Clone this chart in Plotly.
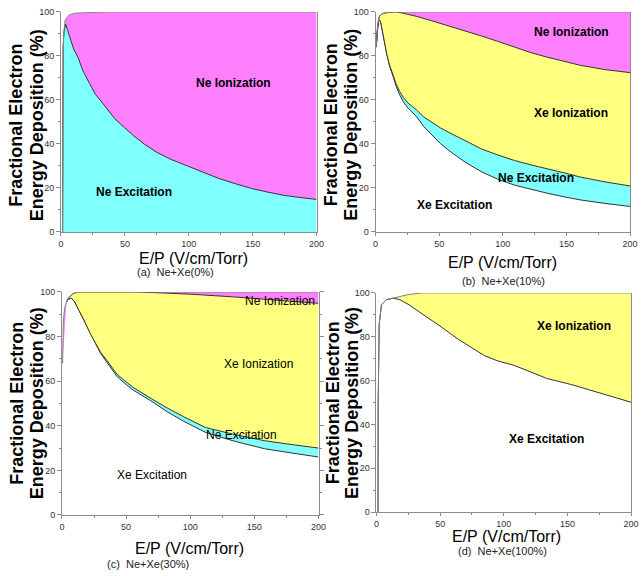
import plotly.graph_objects as go

W, H = 643, 576

# ---------- data: cumulative energy-deposition curves (%) vs E/P (V/cm/Torr) ----------
# (a) Ne + Xe(0%)
a_total_x = [1.2, 1.4, 2.0, 3.3, 6.7, 11, 20, 30, 36, 200]
a_total_y = [0, 70, 90, 96.4, 98.7, 99.4, 99.5, 99.6, 100, 100]
a_neexc_x = [1.3, 1.6, 2.4, 3.7, 5, 8, 10, 13.3, 17, 22.3, 27, 31.3, 36.4, 42, 49.7, 56.9, 65,
             74.9, 86, 97.9, 110, 123.6, 136, 149, 162, 175, 188, 200]
a_neexc_y = [0, 84, 91, 94.3, 92, 86, 83, 79.4, 73.5, 67.5, 62.5, 59.5, 55.6, 51.5, 47.4, 43.7, 40,
             36.2, 33, 30.3, 27.5, 24.3, 22, 19.8, 18.1, 16.6, 15.6, 14.8]

# (b) Ne + Xe(10%)
b_total_x = [0.5, 1, 1.6, 2.4, 3, 4, 5.5, 8, 12, 16, 200]
b_total_y = [84, 89.5, 93.5, 96.5, 97.8, 98.6, 99.2, 99.6, 99.9, 100, 100]
b_xeexc_x = [0.6, 1, 1.6, 2.4, 3, 4, 5.5, 7, 8.75, 11, 13.9, 16, 19, 22, 25.5, 31.9, 38, 44.8, 51,
             57.7, 70.5, 83.4, 96, 109.1, 122, 134.9, 148, 160.6, 180, 200]
b_xeexc_y = [84, 88, 92, 95.5, 96.4, 95.5, 91.5, 86.5, 81, 75.5, 70.5, 66.5, 62.3, 59, 56.3, 52.6, 47.8,
             43.7, 40.2, 37, 31.7, 27.3, 24, 21.3, 19.3, 17.6, 16, 14.6, 13, 11.6]
b_neexc_y = [84, 88, 92, 95.5, 96.4, 95.5, 91.5, 86.5, 81, 75.8, 71.2, 67.5, 63.8, 61, 58.6, 55.6, 52.2,
             49.5, 47.3, 45.2, 41.3, 37.7, 35, 32.5, 30.5, 28.8, 26.9, 25, 22.8, 20.9]
b_xeion_x = [0.5, 1, 1.6, 2.4, 3, 4, 5.5, 8, 12, 16, 20, 32, 45, 58, 70, 83, 96, 109, 122, 135, 148,
             161, 180, 200]
b_xeion_y = [84, 89.5, 93.5, 96.5, 97.8, 98.6, 99.2, 99.6, 99.9, 100, 99.6, 98, 95.8, 93.6, 91.3, 89.1,
             86.6, 83.9, 81.5, 79.4, 77.5, 75.7, 73.8, 72.4]

# (c) Ne + Xe(30%)
c_total_x = [0.5, 0.6, 1, 2, 3.5, 5, 8, 12, 200]
c_total_y = [68, 76, 86, 92.5, 95.5, 97.2, 99, 100, 100]
c_xeexc_x = [3.5, 5, 7.5, 10, 13, 16.5, 22, 26, 30, 35, 43, 50, 56, 69, 82, 95, 112, 135, 158, 180, 200]
c_xeexc_y = [95.5, 96.8, 97.2, 95.5, 92, 88, 81, 76.5, 72.5, 68.5, 62, 58.5, 55.8, 51.3, 46.3, 42,
             37, 33, 29.7, 27.7, 26]
c_neexc_y = [95.5, 96.8, 97.2, 95.5, 92, 88.2, 81.4, 77, 73, 69.3, 63, 59.7, 57, 52.4, 48, 44,
             39.2, 36, 33.3, 31.5, 30]
c_xeion_x = [3.5, 5, 8, 12, 60, 80, 100, 133, 165, 200]
c_xeion_y = [95.5, 97.2, 99, 100, 100, 99.5, 99, 97.8, 96.5, 94.9]

# (d) Ne + Xe(100%)
d_total_x = [1.2, 1.3, 2.1, 3.9, 7.7, 15.4, 25.5, 36, 200]
d_total_y = [0, 48, 85.6, 94.6, 96.9, 97.9, 99.3, 100, 100]
d_xeexc_x = [1.2, 1.3, 2.1, 3.9, 7.7, 13, 18, 25.5, 38.4, 49.9, 64.1, 75, 84.7, 95, 107.8, 120,
             133.6, 154.2, 174.8, 200]
d_xeexc_y = [0, 48, 85.6, 94.6, 96.9, 97.6, 97, 94.6, 89.4, 84.9, 78.9, 75, 71.4, 69, 67, 64.2,
             61, 58, 54.3, 50.1]

x_ticks = [0, 50, 100, 150, 200]
y_ticks = [0, 20, 40, 60, 80, 100]

CYAN, YELLOW, MAGENTA = "#80ffff", "#ffff80", "#ff80ff"
CURVE, TOTAL, AXIS = "#333333", "#808080", "#8c8c8c"

fig = go.Figure()


def layer(x, y, ax, fill, color, line=CURVE):
    fig.add_trace(go.Scatter(
        x=x, y=y, mode="lines", xaxis="x" + ax, yaxis="y" + ax,
        line=dict(color=line, width=1), fill=fill,
        fillcolor=color if color else "rgba(0,0,0,0)",
        hoverinfo="skip", showlegend=False))


# (a)
layer(a_neexc_x, a_neexc_y, "", "tozeroy", CYAN)
layer(a_total_x, a_total_y, "", "tonexty", MAGENTA, TOTAL)
# (b)
layer(b_xeexc_x, b_xeexc_y, "2", "none", None)
layer(b_xeexc_x, b_neexc_y, "2", "tonexty", CYAN)
layer(b_xeion_x, b_xeion_y, "2", "tonexty", YELLOW)
layer(b_total_x, b_total_y, "2", "tonexty", MAGENTA, TOTAL)
# (c)
layer(c_xeexc_x, c_xeexc_y, "3", "none", None)
layer(c_xeexc_x, c_neexc_y, "3", "tonexty", CYAN)
layer(c_xeion_x, c_xeion_y, "3", "tonexty", YELLOW)
layer(c_total_x, c_total_y, "3", "tonexty", MAGENTA, TOTAL)
# (d)
layer(d_xeexc_x, d_xeexc_y, "4", "none", None)
layer(d_total_x, d_total_y, "4", "tonexty", YELLOW, TOTAL)

# plot areas in pixels: (left, right, top, bottom)
boxes = {"": (59, 319, 7, 231), "2": (379, 638, 7, 231),
         "3": (60, 321, 292, 519), "4": (380, 639, 293, 516)}

tick_font = dict(family="Liberation Sans, Arial", size=9, color="#333333")
layout = dict(width=W, height=H, margin=dict(l=0, r=0, t=0, b=0),
              paper_bgcolor="white", plot_bgcolor="white")

for ax, (l, r, t, b) in boxes.items():
    xa = dict(domain=[l / W, r / W], range=[0, 200], anchor="y" + ax,
              showline=True, linecolor=AXIS, linewidth=1, mirror=False,
              ticks="outside", ticklen=3, tickcolor=AXIS, tickvals=x_ticks,
              minor=dict(dtick=25, ticks="outside", ticklen=2, tickcolor=AXIS),
              showgrid=False, zeroline=False, tickfont=tick_font, fixedrange=True)
    ya = dict(domain=[1 - b / H, 1 - t / H], range=[0, 100], anchor="x" + ax,
              showline=True, linecolor=AXIS, linewidth=1,
              mirror="ticks" if ax == "3" else True,
              ticks="outside", ticklen=4, tickcolor=AXIS, tickvals=y_ticks,
              minor=dict(dtick=10, ticks="outside", ticklen=2, tickcolor=AXIS),
              showgrid=False, zeroline=False, tickfont=tick_font, fixedrange=True)
    layout["xaxis" + ax] = xa
    layout["yaxis" + ax] = ya

fig.update_layout(**layout)


def note(text, px, py, size=12, bold=False, angle=0, family="Liberation Sans, Arial", color="black"):
    fig.add_annotation(text=f"<b>{text}</b>" if bold else text,
                       x=px / W, y=1 - py / H, xref="paper", yref="paper",
                       xanchor="center", yanchor="middle", showarrow=False,
                       textangle=angle, font=dict(family=family, size=size, color=color))


# axis titles
ytitle_pos = [(13, 34, 122), (334, 354, 122), (14, 35, 405), (336, 355, 405)]
for x1, x2, yc in ytitle_pos:
    note("Fractional Electron", x1, yc, size=18, bold=True, angle=-90)
    note("Energy Deposition (%)", x2, yc, size=18, bold=True, angle=-90)

for px, py in [(194, 258), (508, 262), (190, 553), (512, 541)]:
    note("E/P (V/cm/Torr)", px, py, size=16)

captions = [("(a)  Ne+Xe(0%)", 175, 272), ("(b)  Ne+Xe(10%)", 509, 281),
            ("(c)  Ne+Xe(30%)", 148, 569), ("(d)  Ne+Xe(100%)", 508, 556)]
for text, px, py in captions:
    note(text, px, py, size=11, color="#222222")

# region labels
note("Ne Ionization", 235, 79, bold=True)
note("Ne Excitation", 133, 190, bold=True)

note("Ne Ionization", 578, 27, bold=True)
note("Xe Ionization", 578, 110, bold=True)
note("Ne Excitation", 542, 176, bold=True)
note("Xe Excitation", 459, 204, bold=True)

note("Ne Ionization", 282, 301)
note("Xe Ionization", 260, 365)
note("Ne Excitation", 243, 438)
note("Xe Excitation", 152, 478)

note("Xe Ionization", 581, 327, bold=True)
note("Xe Excitation", 553, 442, bold=True)

fig.write_html("out.html")
